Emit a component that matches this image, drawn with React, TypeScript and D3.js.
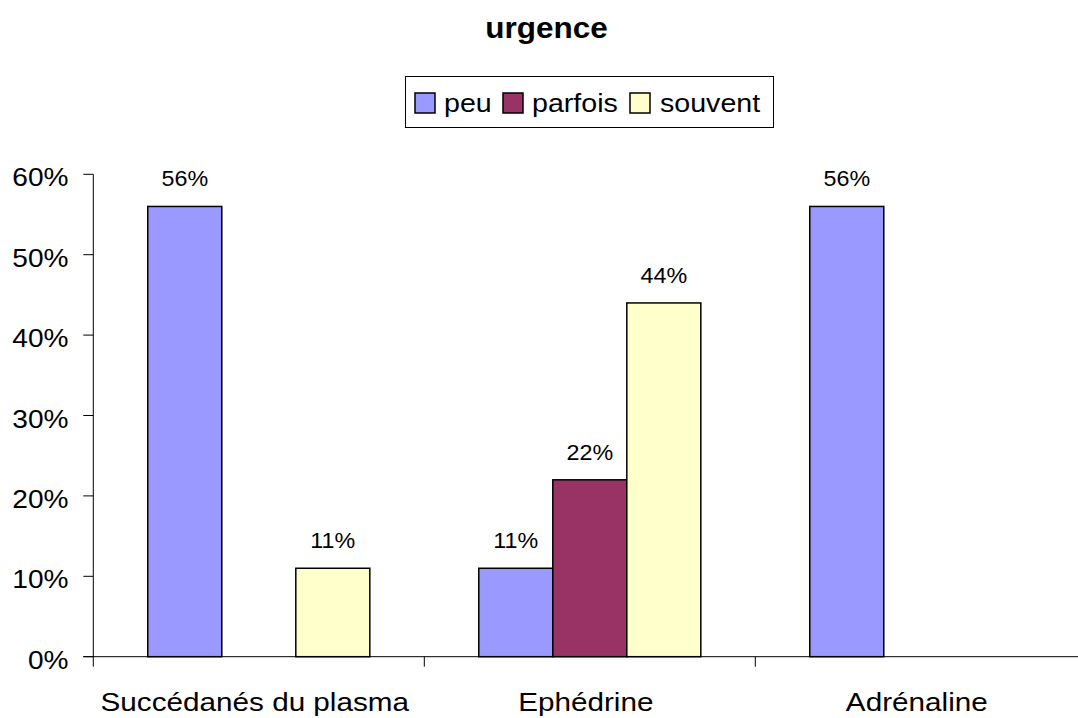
import React from "react";
import * as d3 from "d3";

const title = "urgence";
const categories = ["Succédanés du plasma", "Ephédrine", "Adrénaline"];
const seriesNames = ["peu", "parfois", "souvent"];
const seriesColors = ["#9999FF", "#993366", "#FFFFCC"];
const peu = [0.56, 0.11, 0.56];
const parfois = [0, 0.22, 0];
const souvent = [0.11, 0.44, 0];
const yTicks = [0, 0.1, 0.2, 0.3, 0.4, 0.5, 0.6];

const W = 1078;
const H = 718;
const FONT = "'Liberation Sans', Arial, sans-serif";
const SX = 1.1;

function SText({ x, y, size, anchor = "middle", weight = "normal", children, sx = SX }: any) {
  return (
    <text
      transform={`translate(${x},${y}) scale(${sx},1)`}
      fontFamily={FONT}
      fontSize={size}
      fontWeight={weight}
      textAnchor={anchor}
      fill="#000"
    >
      {children}
    </text>
  );
}

export default function App() {
  const series = [peu, parfois, souvent];
  const x0 = 93.3;
  const catW = 331;
  const x = d3.scaleBand<string>().domain(categories).range([x0, x0 + catW * categories.length]).padding(0);
  const xi = d3.scaleBand<string>().domain(seriesNames).range([0, x.bandwidth()]).paddingInner(0).paddingOuter(0.736);
  const y = d3.scaleLinear().domain([0, 0.6]).range([656.7, 174.3]);
  const fmt = d3.format(".0%");

  const legendItems = [
    { sw: 415, tx: 444 },
    { sw: 503, tx: 532 },
    { sw: 630, tx: 660 },
  ];

  return (
    <svg width={W} height={H} style={{ position: "absolute", left: 0, top: 0, background: "#fff" }}>
      <rect x={0} y={0} width={W} height={H} fill="#fff" />
      <SText x={546.5} y={38} size={30} weight="bold" sx={1.05}>{title}</SText>

      {/* legend */}
      <rect x={405.5} y={76.5} width={368} height={51} fill="#fff" stroke="#000" strokeWidth={1} />
      {seriesNames.map((s, i) => (
        <g key={s}>
          <rect x={legendItems[i].sw} y={93} width={20} height={20} fill={seriesColors[i]} stroke="#000" strokeWidth={1.5} />
          <SText x={legendItems[i].tx} y={112} size={26} anchor="start">{s}</SText>
        </g>
      ))}

      {/* bars */}
      {categories.map((c, ci) => (
        <g key={c}>
          {seriesNames.map((s, si) => {
            const v = series[si][ci];
            if (!v) return null;
            const bx = (x(c) as number) + (xi(s) as number);
            const bw = xi.bandwidth();
            return (
              <g key={s}>
                <rect x={bx} y={y(v)} width={bw} height={y(0) - y(v)} fill={seriesColors[si]} stroke="#000" strokeWidth={1.5} />
                <SText x={bx + bw / 2} y={y(v) - 20} size={22} sx={1.06}>{fmt(v)}</SText>
              </g>
            );
          })}
        </g>
      ))}

      {/* y axis */}
      <line x1={x0} x2={x0} y1={y(0.6)} y2={y(0) + 10} stroke="#000" strokeWidth={1} />
      {yTicks.map((t) => (
        <g key={t}>
          <line x1={x0 - 10} x2={x0} y1={y(t)} y2={y(t)} stroke="#000" strokeWidth={1} />
          <SText x={68.5} y={y(t) + 12} size={26} anchor="end" sx={1.08}>{fmt(t)}</SText>
        </g>
      ))}

      {/* x axis */}
      <line x1={x0 - 10} x2={W} y1={y(0)} y2={y(0)} stroke="#000" strokeWidth={1} />
      {categories.map((c, ci) => (
        <g key={c}>
          {ci > 0 && (
            <line x1={x(c) as number} x2={x(c) as number} y1={y(0)} y2={y(0) + 10} stroke="#000" strokeWidth={1} />
          )}
          <SText x={(x(c) as number) + x.bandwidth() / 2 - 4} y={711} size={26.5} sx={1.12}>{c}</SText>
        </g>
      ))}
    </svg>
  );
}
